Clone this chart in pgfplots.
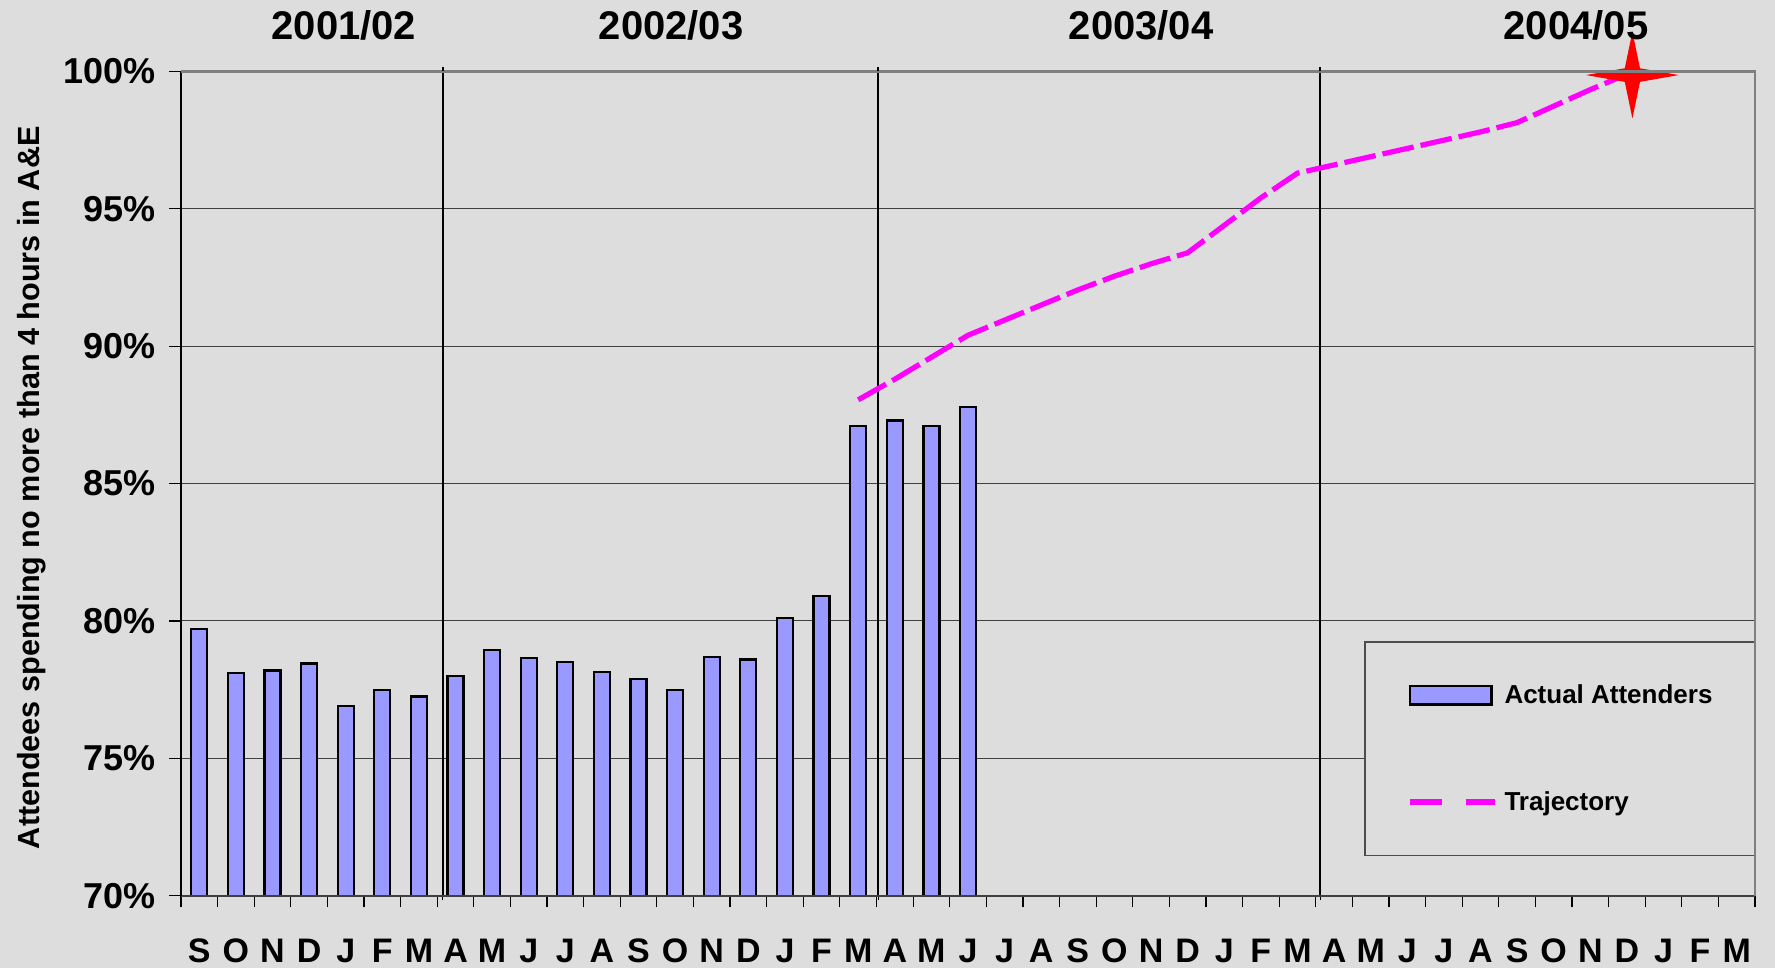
\documentclass[border=0pt]{standalone}
\usepackage{pgfplots}
\pgfplotsset{compat=1.18}
\usepackage{fontspec}
\setmainfont{Liberation Sans}
\definecolor{bg}{RGB}{221,221,221}
\definecolor{barblue}{RGB}{153,153,255}
\definecolor{traj}{RGB}{255,0,255}
\pgfdeclareplotmark{star4}{%
  \pgfpathmoveto{\pgfqpoint{23.2pt}{0pt}}%
  \pgfpathlineto{\pgfqpoint{3.8pt}{3.4pt}}%
  \pgfpathlineto{\pgfqpoint{0pt}{21.7pt}}%
  \pgfpathlineto{\pgfqpoint{-3.8pt}{3.4pt}}%
  \pgfpathlineto{\pgfqpoint{-23.2pt}{0pt}}%
  \pgfpathlineto{\pgfqpoint{-3.8pt}{-3.4pt}}%
  \pgfpathlineto{\pgfqpoint{0pt}{-21.7pt}}%
  \pgfpathlineto{\pgfqpoint{3.8pt}{-3.4pt}}%
  \pgfpathclose
  \pgfusepathqfill
}
\begin{document}
\begin{tikzpicture}
\fill[bg] (-90.5pt,-36.15pt) rectangle (797pt,447.85pt);
\path[use as bounding box] (-90.5pt,-36.15pt) rectangle (797pt,447.85pt);
\begin{axis}[
  at={(0,0)}, anchor=south west,
  scale only axis, width=787pt, height=412.1pt,
  xmin=-0.5, xmax=42.5, ymin=70, ymax=100,
  axis line style={draw=none},
  tick pos=left, tick align=outside,
  major tick length=5.8pt,
  tick style={black, line width=0.6pt},
  xtick={-0.5,0.5,...,42.5},
  xticklabels={S,O,N,D,J,F,M,A,M,J,J,A,S,O,N,D,J,F,M,A,M,J,J,A,S,O,N,D,J,F,M,A,M,J,J,A,S,O,N,D,J,F,M,{}},
  xticklabel style={anchor=north, inner sep=0pt, xshift=9.15pt, yshift=-15.5pt, font=\fontsize{17}{17}\selectfont\bfseries},
  ytick={70,75,...,100},
  yticklabels={70\%,75\%,80\%,85\%,90\%,95\%,100\%},
  yticklabel style={anchor=east, inner sep=0pt, xshift=-6.8pt, font=\fontsize{18}{18}\selectfont\bfseries},
  ymajorgrids=true,
  major grid style={black!75, line width=0.5pt},
  extra x ticks={6.65,18.55,30.62},
  extra x tick labels={,,},
  extra x tick style={xmajorgrids=true, major grid style={black, line width=0.9pt}, major tick length=2.3pt},
  ylabel={Attendees spending no more than 4 hours in A\&E},
  ylabel style={at={(axis description cs:-0.0948,0.495)}, anchor=center, inner sep=0pt, font=\fontsize{15.3}{15.3}\selectfont\bfseries},
  legend style={at={(1,0.0482)}, anchor=south east, draw=black!70, line width=0.6pt, fill=bg,
    minimum width=194.7pt, minimum height=106.7pt, row sep=42.5pt, column sep=3.5pt,
    nodes={minimum width=0pt, minimum height=0pt, inner sep=0pt},
    font=\fontsize{13}{13}\selectfont\bfseries},
  legend cell align=left,
]
\addplot[ybar, bar width=8pt, fill=barblue, draw=black, line width=1.1pt,
  legend image code/.code={\draw[fill=barblue, draw=black, line width=1.2pt] (0pt,-4.6pt) rectangle (40.8pt,4.6pt);}]
coordinates {
(0,79.7) (1,78.1) (2,78.2) (3,78.45) (4,76.9) (5,77.5) (6,77.25)
(7,78.0) (8,78.95) (9,78.65) (10,78.5) (11,78.15) (12,77.9) (13,77.5)
(14,78.7) (15,78.6) (16,80.1) (17,80.9) (18,87.1)
(19,87.3) (20,87.1) (21,87.8)
};
\addlegendentry{Actual Attenders}
\addplot[traj, line width=2.6pt, dash pattern=on 16pt off 3.5pt,
  legend image code/.code={\draw[traj, line width=3pt] (0pt,0pt) -- (17.8pt,0pt); \draw[traj, line width=3pt] (27.9pt,0pt) -- (42.3pt,0pt);}]
coordinates {
(18,88.05) (19,88.8) (20,89.6) (21,90.4) (22,90.95) (23,91.5) (24,92.05)
(25,92.55) (26,93.0) (27,93.4) (28,94.4) (29,95.4) (30,96.3) (31,96.6)
(32,96.9) (33,97.2) (34,97.5) (35,97.8) (36,98.14) (37,98.74) (38,99.34) (39,99.9)
};
\addlegendentry{Trajectory}
\addplot[only marks, mark=star4, red, forget plot] coordinates {(39.15,99.87)};
\coordinate (SW) at (rel axis cs:0,0);
\coordinate (SE) at (rel axis cs:1,0);
\coordinate (NW) at (rel axis cs:0,1);
\coordinate (NE) at (rel axis cs:1,1);
\coordinate (V1) at (axis cs:6.65,100);
\coordinate (V2) at (axis cs:18.55,100);
\coordinate (V3) at (axis cs:30.62,100);
\coordinate (Y1) at (axis cs:3.95,100);
\coordinate (Y2) at (axis cs:12.89,100);
\coordinate (Y3) at (axis cs:25.73,100);
\coordinate (Y4) at (axis cs:37.61,100);
\end{axis}
\draw[black!75, line width=1.1pt] (SW) -- (SE);
\draw[black, line width=0.9pt] (SW) -- (NW);
\draw[black!50, line width=1.1pt] (NW) -- (NE) -- (SE);
\foreach \v in {V1,V2,V3} \draw[black, line width=0.9pt] (\v) -- ++(0,2.3pt);
\foreach \y/\t in {Y1/2001\slash 02,Y2/2002\slash 03,Y3/2003\slash 04,Y4/2004\slash 05}
  \node[inner sep=0pt, font=\fontsize{20}{20}\selectfont\bfseries] at ([yshift=22.8pt]\y) {\t};
\end{tikzpicture}
\end{document}
